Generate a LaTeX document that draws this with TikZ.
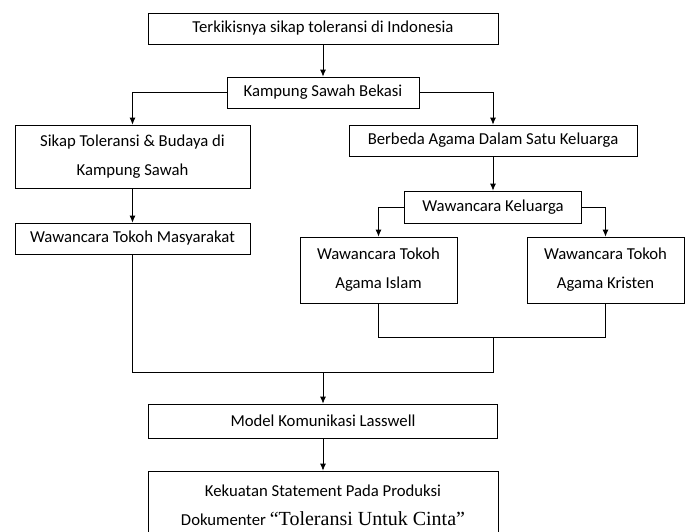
\documentclass[tikz,border=0pt]{standalone}
\usepackage{fontspec}
\setmainfont{Carlito}
\newfontfamily\timesfont{Liberation Serif}
\usetikzlibrary{arrows.meta,positioning,calc}

\begin{document}
\begin{tikzpicture}[
    x=1pt, y=-1pt,
    box/.style={draw, rectangle, line width=0.8pt, align=center, inner sep=0pt, font=\fontsize{16.7}{29}\selectfont},
    line/.style={draw, line width=0.8pt, -{Latex[length=7pt,width=6pt]}},
    mergeline/.style={draw, line width=0.8pt}
]
\clip (0,0) rectangle (687,531);

\node[box, minimum width=350pt, minimum height=31pt] (top) at (323, 28.5) {Terkikisnya sikap toleransi di Indonesia};
\node[box, minimum width=192pt, minimum height=31pt] (kampung) at (323, 92.5) {Kampung Sawah Bekasi};
\node[box, minimum width=235pt, minimum height=63pt] (sikap) at (132.5, 156.5) {Sikap Toleransi \& Budaya di\\Kampung Sawah};
\node[box, minimum width=288pt, minimum height=31pt] (berbeda) at (493, 140.5) {Berbeda Agama Dalam Satu Keluarga};
\node[box, minimum width=177pt, minimum height=32pt] (keluarga) at (493, 207) {Wawancara Keluarga};
\node[box, minimum width=235pt, minimum height=31pt] (masyarakat) at (132.5, 238.5) {Wawancara Tokoh Masyarakat};
\node[box, minimum width=157pt, minimum height=66pt] (islam) at (378.5, 270) {Wawancara Tokoh\\Agama Islam};
\node[box, minimum width=157pt, minimum height=66pt] (kristen) at (605.5, 270) {Wawancara Tokoh\\Agama Kristen};
\node[box, minimum width=349pt, minimum height=34pt] (lasswell) at (323, 421) {Model Komunikasi Lasswell};
\node[box, minimum width=350pt, minimum height=68pt] (statement) at (323, 505) {Kekuatan Statement Pada Produksi\\Dokumenter {\timesfont\fontsize{20}{29}\selectfont “Toleransi Untuk Cinta”}};

\coordinate (mergeB) at (493, 337);
\coordinate (mergeA) at (323, 372);

\draw[line] (top) -- (kampung);
\draw[line] (kampung.west) -| (sikap.north);
\draw[line] (kampung.east) -| (berbeda.north);
\draw[line] (sikap) -- (masyarakat);
\draw[line] (berbeda) -- (keluarga);
\draw[line] (keluarga.west) -| (islam.north);
\draw[line] (keluarga.east) -| (kristen.north);
\draw[mergeline] (islam.south) |- (mergeB) -| (kristen.south);
\draw[mergeline] (mergeB) |- (mergeA) -| (masyarakat.south);
\draw[line] (mergeA) -- (lasswell);
\draw[line] (lasswell) -- (statement);

\end{tikzpicture}
\end{document}
